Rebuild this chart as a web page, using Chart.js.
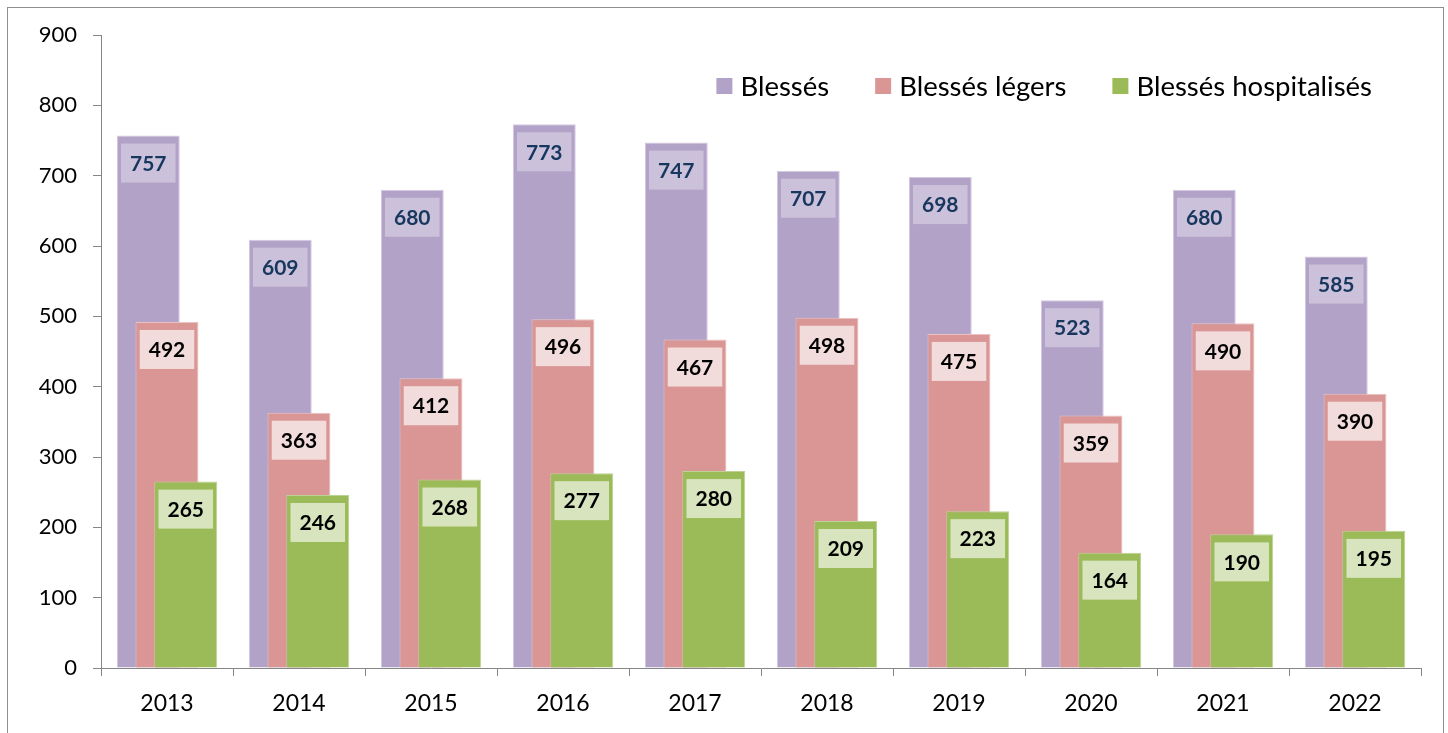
<!DOCTYPE html>
<html>
<head>
<meta charset="utf-8">
<style>
  html, body { margin: 0; padding: 0; background: #fff; }
  #wrap { width: 1448px; height: 733px; }
</style>
</head>
<body>
<div id="wrap"><canvas id="grafico" width="1448" height="733"></canvas></div>

<script src="https://cdn.jsdelivr.net/npm/chart.js"></script>
<script>
  // données
  const annees = ["2013", "2014", "2015", "2016", "2017", "2018", "2019", "2020", "2021", "2022"];
  const blesses = [757, 609, 680, 773, 747, 707, 698, 523, 680, 585];
  const blessesLegers = [492, 363, 412, 496, 467, 498, 475, 359, 490, 390];
  const blessesHospitalises = [265, 246, 268, 277, 280, 209, 223, 164, 190, 195];
  const ticksY = [0, 100, 200, 300, 400, 500, 600, 700, 800, 900];

  const couleurs = ["#B3A2C7", "#D99694", "#9BBB59"];
  const bordures = ["#D3CADF", "#EBC3C2", "#BCD294"];
  const fondsEtiquettes = ["#CCC1DA", "#F2DCDB", "#D7E4BD"];
  const textesEtiquettes = ["#17375E", "#000000", "#000000"];
  const FONT = "Lato, 'Open Sans', sans-serif";

  // dessine les séries dans l'ordre (la dernière passe par-dessus)
  const ordreDessin = {
    id: "ordreDessin",
    beforeDatasetsDraw(chart) {
      chart.data.datasets.forEach((ds, i) => {
        const meta = chart.getDatasetMeta(i);
        if (!meta.hidden) meta.controller.draw();
      });
      return false;
    }
  };

  // étiquettes de valeur dans un petit cadre clair en haut de chaque barre
  const etiquettes = {
    id: "etiquettes",
    afterDraw(chart) {
      const ctx = chart.ctx;
      ctx.save();
      ctx.font = "bold 21px " + FONT;
      ctx.textAlign = "center";
      ctx.textBaseline = "middle";
      chart.data.datasets.forEach((ds, i) => {
        chart.getDatasetMeta(i).data.forEach((bar, j) => {
          const txt = String(ds.data[j]);
          const w = ctx.measureText(txt).width + 18;
          const h = 39;
          const y = bar.y + 8;
          ctx.fillStyle = fondsEtiquettes[i];
          ctx.fillRect(bar.x - w / 2, y, w, h);
          ctx.fillStyle = textesEtiquettes[i];
          ctx.fillText(txt, bar.x, y + h / 2 + 1);
        });
      });
      ctx.restore();
    }
  };

  // légende en haut à droite, dans la zone du graphique, et cadre extérieur
  const legende = {
    id: "legende",
    afterDraw(chart) {
      const ctx = chart.ctx;
      ctx.save();
      ctx.font = "27.5px " + FONT;
      ctx.textBaseline = "middle";
      const carre = 16, gap = 8, entre = 46;
      const items = chart.data.datasets.map((ds, i) => ({
        label: ds.label, color: couleurs[i], w: ctx.measureText(ds.label).width
      }));
      const total = items.reduce((s, it) => s + carre + gap + it.w, 0) + entre * (items.length - 1);
      let x = 1372 - total;
      const yc = 86;
      items.forEach(it => {
        ctx.fillStyle = it.color;
        ctx.fillRect(x, yc - carre / 2, carre, carre);
        x += carre + gap;
        ctx.fillStyle = "#000";
        ctx.fillText(it.label, x, yc + 1);
        x += it.w + entre;
      });
      ctx.strokeStyle = "#8E8E8E";
      ctx.lineWidth = 1;
      ctx.strokeRect(7.5, 7.5, 1436, 740);
      ctx.restore();
    }
  };

  const ctx = document.getElementById("grafico").getContext("2d");
  new Chart(ctx, {
    type: "bar",
    data: {
      labels: annees,
      datasets: [
        { label: "Blessés", data: blesses },
        { label: "Blessés légers", data: blessesLegers },
        { label: "Blessés hospitalisés", data: blessesHospitalises }
      ].map((d, i) => ({
        ...d,
        backgroundColor: couleurs[i],
        borderColor: bordures[i],
        borderWidth: 1,
        borderSkipped: "bottom",
        categoryPercentage: 0.426,
        barPercentage: 3.36
      }))
    },
    options: {
      responsive: false,
      animation: false,
      layout: { padding: { left: 0, right: 27, top: 35, bottom: 0 } },
      plugins: {
        legend: { display: false },
        tooltip: { enabled: false }
      },
      scales: {
        x: {
          afterFit: s => { s.height = 65; },
          grid: { drawOnChartArea: false, drawTicks: true, tickLength: 8, color: "#868686", offset: true },
          border: { color: "#868686" },
          ticks: { color: "#000", font: { family: FONT, size: 23 }, padding: 14 }
        },
        y: {
          min: 0,
          max: 900,
          afterFit: s => { s.width = 101; },
          afterBuildTicks: s => { s.ticks = ticksY.map(v => ({ value: v })); },
          grid: { drawOnChartArea: false, drawTicks: true, tickLength: 8, color: "#868686" },
          border: { color: "#868686" },
          ticks: { color: "#000", font: { family: FONT, size: 22 }, padding: 16 }
        }
      }
    },
    plugins: [ordreDessin, etiquettes, legende]
  });
</script>
</body>
</html>
